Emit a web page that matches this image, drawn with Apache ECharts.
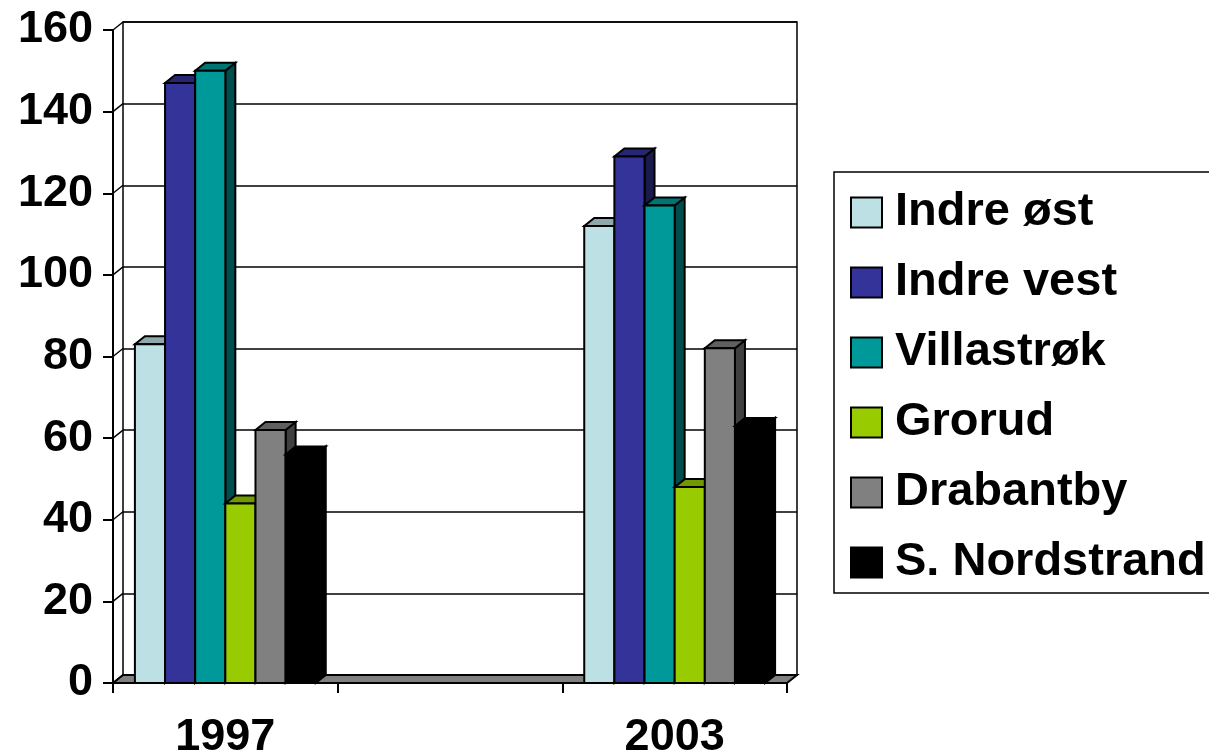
<!DOCTYPE html>
<html>
<head>
<meta charset="utf-8">
<script src="https://cdn.jsdelivr.net/npm/echarts@6/dist/echarts.min.js"></script>
<style>
html,body{margin:0;padding:0;background:#fff;}
#chart{width:1209px;height:753px;}
</style>
</head>
<body>
<div id="chart"></div>
<script>
// ---- data ----
var categories = ['1997', '', '2003'];
var seriesNames = ['Indre øst', 'Indre vest', 'Villastrøk', 'Grorud', 'Drabantby', 'S. Nordstrand'];
var indreOst    = [83,  null, 112];
var indreVest   = [147, null, 129];
var villastrok  = [150, null, 117];
var grorud      = [44,  null, 48];
var drabantby   = [62,  null, 82];
var sNordstrand = [56,  null, 63];
var yTicks = [0, 20, 40, 60, 80, 100, 120, 140, 160];

var seriesValues = [indreOst, indreVest, villastrok, grorud, drabantby, sNordstrand];
var colors = ['#BDE0E4', '#333399', '#009999', '#99CC00', '#808080', '#000000'];

// ---- styling ----
var DX = 10, DY = 8;          // 3D depth offset
var GROUP_RATIO = 0.805;      // share of a category band used by the cluster
var FONT = "'Liberation Sans', Arial, sans-serif";
var LW = 2, GW = 1.5;

function shade(hex, f) {
  var n = parseInt(hex.slice(1), 16);
  var r = Math.round(((n >> 16) & 255) * f), g = Math.round(((n >> 8) & 255) * f), b = Math.round((n & 255) * f);
  return 'rgb(' + r + ',' + g + ',' + b + ')';
}

function barRenderer(sIdx) {
  return function (params, api) {
    var cat = api.value(0), val = api.value(1);
    var base = api.coord([cat, 0]);
    var top = api.coord([cat, val]);
    var band = api.size([1, 0])[0];
    var n = seriesNames.length;
    var bw = band * GROUP_RATIO / n;
    var x0 = base[0] - bw * n / 2 + sIdx * bw;
    var x1 = x0 + bw;
    var yT = top[1], yB = base[1];
    var c = colors[sIdx];
    var stroke = {stroke: '#000', lineWidth: LW, lineJoin: 'miter'};
    return {
      type: 'group',
      children: [
        {type: 'polygon', shape: {points: [[x1, yT], [x1 + DX, yT - DY], [x1 + DX, yB - DY], [x1, yB]]},
         style: Object.assign({fill: shade(c, 0.5)}, stroke)},
        {type: 'polygon', shape: {points: [[x0, yT], [x1, yT], [x1 + DX, yT - DY], [x0 + DX, yT - DY]]},
         style: Object.assign({fill: shade(c, 0.75)}, stroke)},
        {type: 'rect', shape: {x: x0, y: yT, width: bw, height: yB - yT},
         style: Object.assign({fill: c}, stroke)}
      ]
    };
  };
}

var series = [];
// floor
series.push({
  type: 'custom', name: '_floor', xAxisIndex: 0, yAxisIndex: 0, z: 1, silent: true,
  data: [[0, 0]],
  renderItem: function (params, api) {
    var cs = params.coordSys;
    var y0 = api.coord([0, 0])[1];
    var xl = cs.x, xr = cs.x + cs.width;
    return {type: 'polygon', shape: {points: [[xl, y0], [xr, y0], [xr + DX, y0 - DY], [xl + DX, y0 - DY]]},
            style: {fill: '#808080', stroke: '#000', lineWidth: LW}};
  }
});
// left wall connectors
series.push({
  type: 'custom', name: '_wall', xAxisIndex: 0, yAxisIndex: 0, z: 1, silent: true,
  data: yTicks.map(function (v) { return [0, v]; }),
  renderItem: function (params, api) {
    var cs = params.coordSys;
    var y = api.coord([0, api.value(1)])[1];
    return {type: 'line', shape: {x1: cs.x, y1: y, x2: cs.x + DX, y2: y - DY},
            style: {stroke: '#000', lineWidth: GW}};
  }
});
seriesNames.forEach(function (name, i) {
  var data = [];
  seriesValues[i].forEach(function (v, k) { if (v !== null) data.push([k, v]); });
  series.push({
    type: 'custom', name: name, xAxisIndex: 0, yAxisIndex: 0, z: 3,
    encode: {x: 0, y: 1},
    itemStyle: {color: colors[i], borderColor: '#000', borderWidth: LW},
    data: data,
    renderItem: barRenderer(i)
  });
});

var chart = echarts.init(document.getElementById('chart'), null, {renderer: 'canvas'});
chart.setOption({
  animation: false,
  backgroundColor: '#fff',
  grid: [
    {left: 113, right: 422, top: 30, bottom: 70, containLabel: false, outerBoundsMode: 'none'},
    {left: 123, right: 412, top: 22, bottom: 78, containLabel: false, outerBoundsMode: 'none',
     show: true, borderColor: '#000', borderWidth: GW, backgroundColor: 'transparent'}
  ],
  xAxis: [
    {type: 'category', gridIndex: 0, data: categories, boundaryGap: true,
     axisLine: {show: true, lineStyle: {color: '#000', width: LW}},
     axisTick: {show: true, interval: 0, length: 10, lineStyle: {color: '#000', width: LW}},
     axisLabel: {interval: 0, margin: 32, color: '#000', fontSize: 45, fontWeight: 'bold', fontFamily: FONT},
     splitLine: {show: false}},
    {type: 'category', gridIndex: 1, data: categories, show: false}
  ],
  yAxis: [
    {type: 'value', gridIndex: 0, min: 0, max: 160, interval: 20,
     axisLine: {show: true, lineStyle: {color: '#000', width: LW}},
     axisTick: {show: true, length: 10, lineStyle: {color: '#000', width: LW}},
     axisLabel: {margin: 20, color: '#000', fontSize: 45, fontWeight: 'bold', fontFamily: FONT},
     splitLine: {show: false}},
    {type: 'value', gridIndex: 1, min: 0, max: 160, interval: 20,
     axisLine: {show: false}, axisTick: {show: false}, axisLabel: {show: false},
     splitLine: {show: true, lineStyle: {color: '#000', width: GW}}}
  ],
  legend: {
    data: seriesNames,
    orient: 'vertical',
    left: 834, top: 172,
    padding: [17, 20, 7, 16],
    itemWidth: 31, itemHeight: 30, itemGap: 23,
    icon: 'rect',
    borderColor: '#000', borderWidth: GW,
    itemStyle: {borderColor: '#000', borderWidth: LW},
    textStyle: {color: '#000', fontSize: 47, fontWeight: 'bold', fontFamily: FONT, lineHeight: 30, padding: [0, 0, 0, 8]},
    selectedMode: false
  },
  series: series
});
</script>
</body>
</html>
